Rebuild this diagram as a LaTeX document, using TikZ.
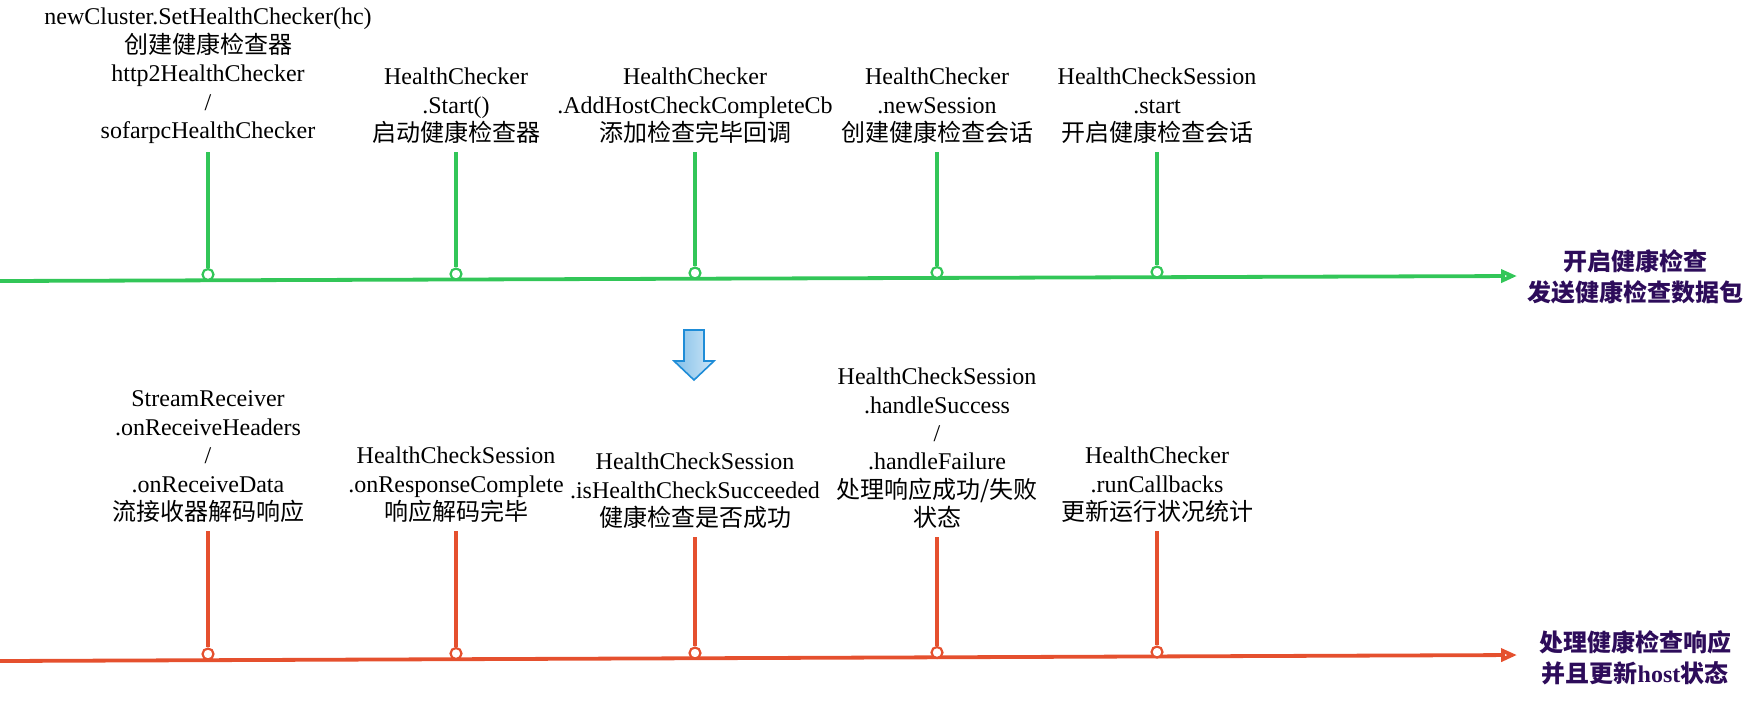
\documentclass[tikz,border=0pt]{standalone}
\usepackage{fontspec}
\setmainfont{Liberation Serif}
\newfontfamily\cjk{Noto Sans CJK SC}
\usetikzlibrary{arrows.meta}
\definecolor{hcgreen}{RGB}{50,198,88}
\definecolor{hcred}{RGB}{229,80,46}
\definecolor{hcpurple}{RGB}{45,12,90}
\definecolor{hcblue}{RGB}{30,140,215}
\begin{document}
\begin{tikzpicture}[x=0.5pt,y=-0.5pt,
 lbl/.style={align=center,anchor=south,inner xsep=0pt,inner ysep=4pt,font=\fontsize{12}{14.2}\selectfont},
 dot/.style={circle,draw=#1,fill=white,line width=1.1pt,minimum size=5.5pt,inner sep=0pt},
 stem/.style={line width=1.6pt,draw=#1},
 axisline/.style={line width=1.9pt,draw=#1,-{Triangle[open,length=8pt,width=6.5pt,fill=white]}},
 side/.style={align=center,font=\bfseries\fontsize{12}{15.5}\selectfont,text=hcpurple}]
\useasboundingbox (0,0) rectangle (1754,708);

% ---- green timeline ----
\coordinate (ga) at (0,281);
\coordinate (gb) at (1517,276);
\draw[axisline=hcgreen] (ga) -- (gb);

\node[lbl] (g1) at (208,152) {newCluster.SetHealthChecker(hc)\\{\cjk 创建健康检查器}\\http2HealthChecker\\/\\sofarpcHealthChecker};
\node[lbl] (g2) at (456,152) {HealthChecker\\.Start()\\{\cjk 启动健康检查器}};
\node[lbl] (g3) at (695,152) {HealthChecker\\.AddHostCheckCompleteCb\\{\cjk 添加检查完毕回调}};
\node[lbl] (g4) at (937,152) {HealthChecker\\.newSession\\{\cjk 创建健康检查会话}};
\node[lbl] (g5) at (1157,152) {HealthCheckSession\\.start\\{\cjk 开启健康检查会话}};

\node[dot=hcgreen] (gd1) at (208,274.5) {};
\node[dot=hcgreen] (gd2) at (456,274) {};
\node[dot=hcgreen] (gd3) at (695,273) {};
\node[dot=hcgreen] (gd4) at (937,272.5) {};
\node[dot=hcgreen] (gd5) at (1157,272) {};
\foreach \i in {1,...,5} \draw[stem=hcgreen] (g\i.south) -- (gd\i.north);

\node[side] (gs) at (1635,277) {{\cjk 开启健康检查}\\{\cjk 发送健康检查数据包}};

% ---- blue arrow ----
\shade[left color=hcblue!55!white,right color=hcblue!22!white,draw=hcblue,line width=0.8pt]
 (684,330) -- (704,330) -- (704,361) -- (714,361) -- (694,380) -- (674,361) -- (684,361) -- cycle;

% ---- red timeline ----
\coordinate (ra) at (0,661);
\coordinate (rb) at (1517,655);
\draw[axisline=hcred] (ra) -- (rb);

\node[lbl] (r1) at (208,531) {StreamReceiver\\.onReceiveHeaders\\/\\.onReceiveData\\{\cjk 流接收器解码响应}};
\node[lbl] (r2) at (456,531) {HealthCheckSession\\.onResponseComplete\\{\cjk 响应解码完毕}};
\node[lbl] (r3) at (695,537) {HealthCheckSession\\.isHealthCheckSucceeded\\{\cjk 健康检查是否成功}};
\node[lbl] (r4) at (937,537) {HealthCheckSession\\.handleSuccess\\/\\.handleFailure\\{\cjk 处理响应成功/失败}\\{\cjk 状态}};
\node[lbl] (r5) at (1157,531) {HealthChecker\\.runCallbacks\\{\cjk 更新运行状况统计}};

\node[dot=hcred] (rd1) at (208,654) {};
\node[dot=hcred] (rd2) at (456,653.5) {};
\node[dot=hcred] (rd3) at (695,653) {};
\node[dot=hcred] (rd4) at (937,652.5) {};
\node[dot=hcred] (rd5) at (1157,652) {};
\foreach \i in {1,...,5} \draw[stem=hcred] (r\i.south) -- (rd\i.north);

\node[side] (rs) at (1635,658) {{\cjk 处理健康检查响应}\\{\cjk 并且更新}host{\cjk 状态}};
\end{tikzpicture}
\end{document}
